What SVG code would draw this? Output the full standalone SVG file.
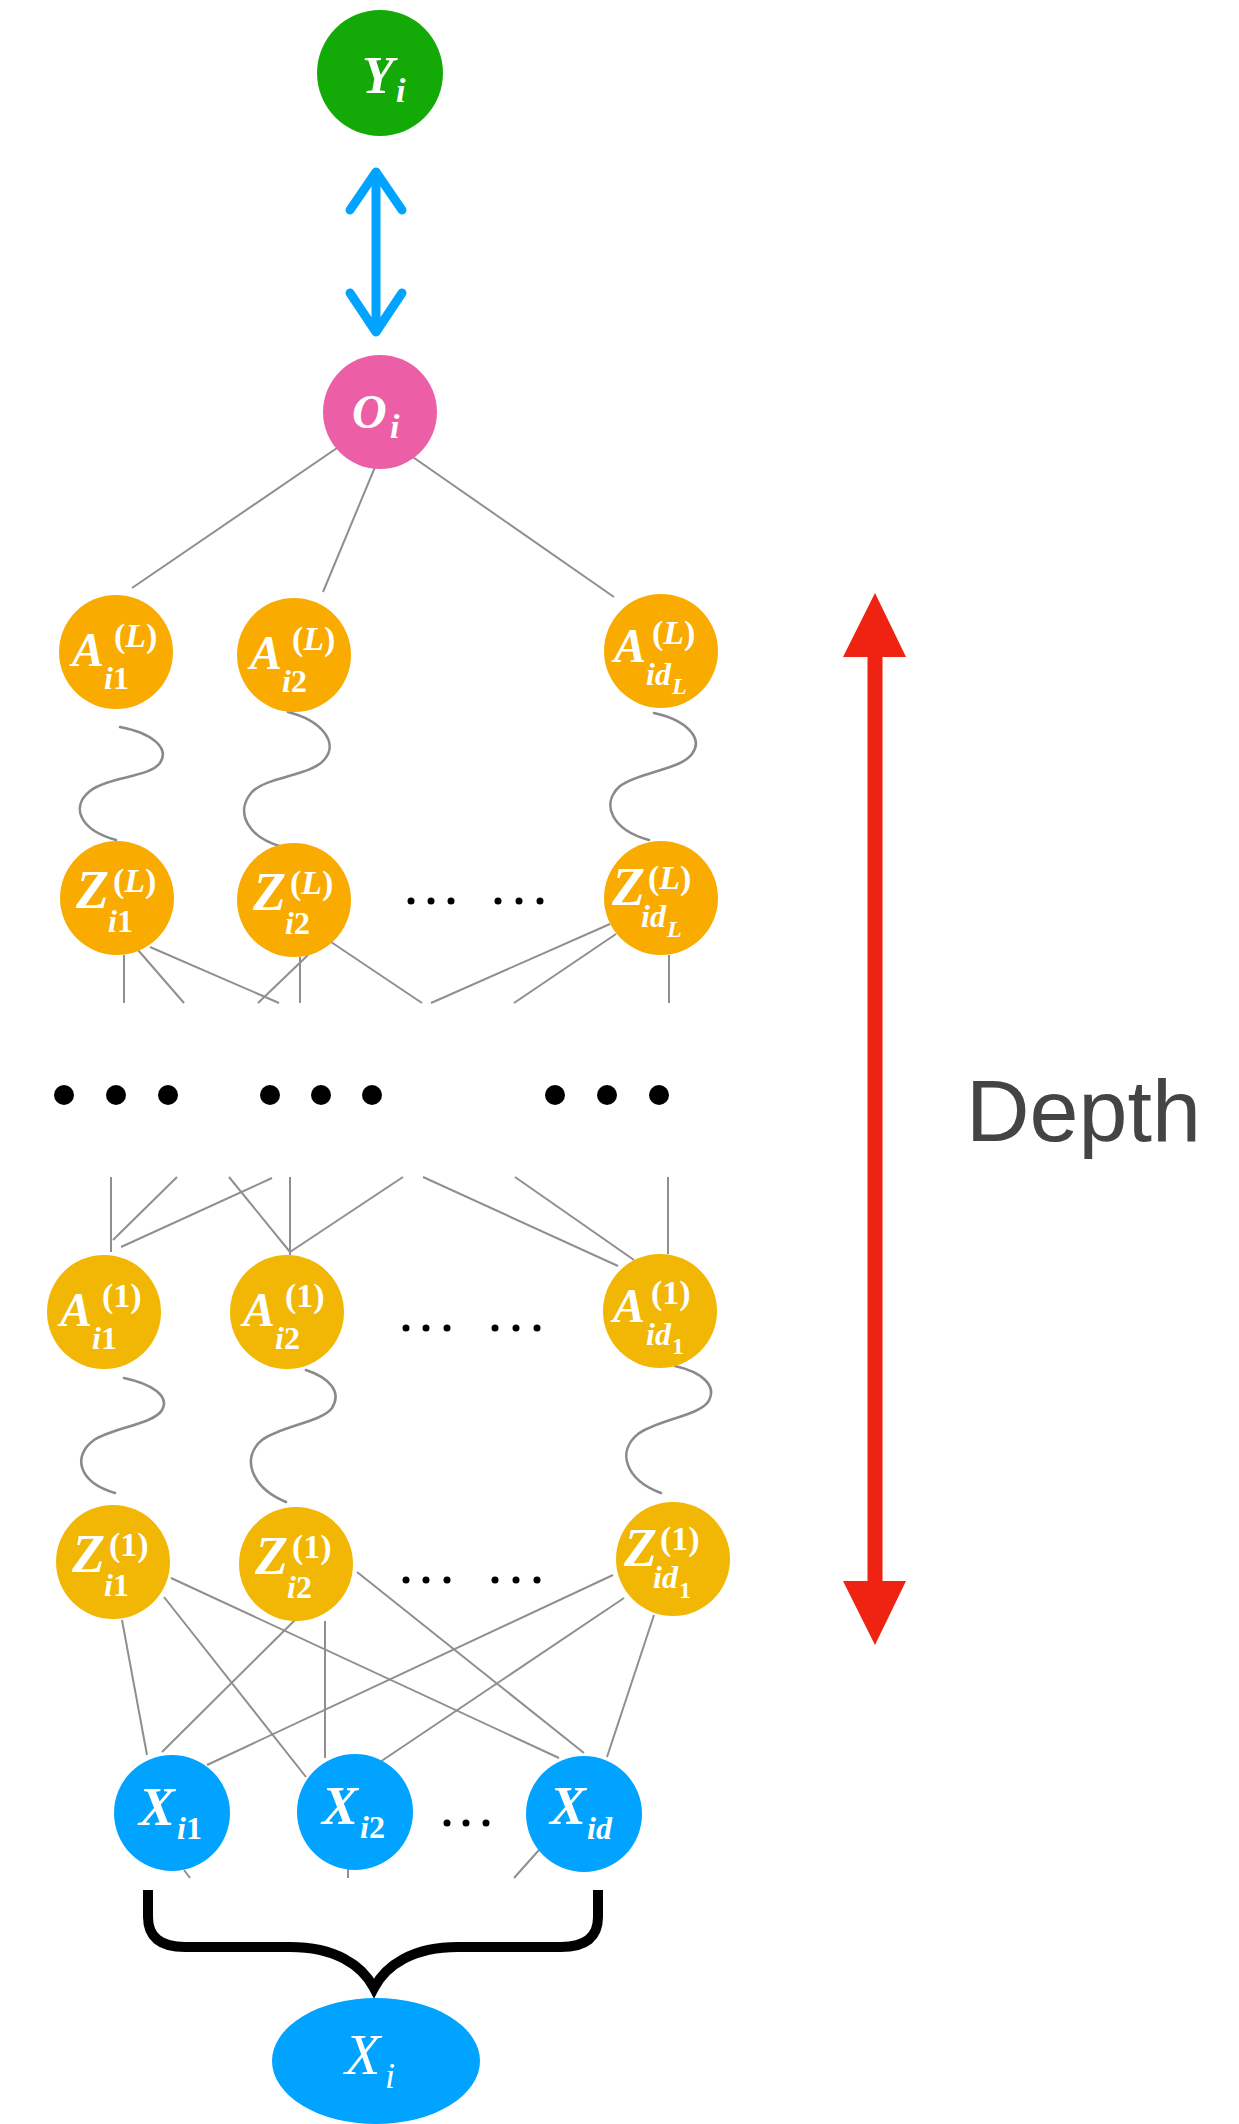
<svg xmlns="http://www.w3.org/2000/svg" width="1239" height="2124" viewBox="0 0 1239 2124">
  <style>
    .edge { stroke: #8f8f8f; stroke-width: 2; fill: none; }
    .wave { stroke: #8a8a8a; stroke-width: 2.6; fill: none; stroke-linecap: round; }
    .nL { fill: #faab00; }
    .n1 { fill: #f2b704; }
    .nx { fill: #00a3ff; }
    .lbl { font-family: "Liberation Serif", "Times New Roman", serif; font-weight: bold; font-style: italic; fill: #ffffff; }
    .up { font-style: normal; }
    .m { font-size: 48px; }
    .mz { font-size: 54px; }
    .s { font-size: 34px; }
    .b { font-size: 32px; }
    .bb { font-size: 24px; }
    .dot { fill: #000000; }
  </style>

  <!-- connectors -->
  <g id="connectors">
    <!-- output to last hidden layer -->
    <line class="edge" x1="337" y1="448" x2="132" y2="588"/>
    <line class="edge" x1="380" y1="455" x2="323" y2="592"/>
    <line class="edge" x1="407" y1="453" x2="614" y2="597"/>

    <!-- activation / pre-activation wiggles, layer L -->
    <path class="wave" d="M120,727 C152,733 170,748 160,763 C150,777 108,777 90,791 C70,807 80,830 116,840"/>
    <path class="wave" d="M288,712 C320,720 340,742 324,760 C310,776 268,776 252,792 C234,812 248,838 283,847"/>
    <path class="wave" d="M654,713 C686,720 704,738 692,754 C680,770 638,772 620,786 C600,804 612,830 649,840"/>

    <!-- layer L fan-out, cut before the elided layers -->
    <line class="edge" x1="124" y1="955" x2="124" y2="1003"/>
    <line class="edge" x1="138" y1="950" x2="184" y2="1003"/>
    <line class="edge" x1="150" y1="947" x2="279" y2="1003"/>
    <line class="edge" x1="308" y1="955" x2="258" y2="1003"/>
    <line class="edge" x1="300" y1="957" x2="300" y2="1003"/>
    <line class="edge" x1="331" y1="942" x2="422" y2="1003"/>
    <line class="edge" x1="610" y1="924" x2="431" y2="1003"/>
    <line class="edge" x1="616" y1="934" x2="514" y2="1003"/>
    <line class="edge" x1="669" y1="955" x2="669" y2="1003"/>

    <!-- fan-in to layer 1 activations -->
    <line class="edge" x1="111" y1="1177" x2="111" y2="1252"/>
    <line class="edge" x1="177" y1="1177" x2="113" y2="1240"/>
    <line class="edge" x1="272" y1="1178" x2="121" y2="1247"/>
    <line class="edge" x1="229" y1="1177" x2="290" y2="1252"/>
    <line class="edge" x1="290" y1="1177" x2="290" y2="1255"/>
    <line class="edge" x1="403" y1="1177" x2="290" y2="1252"/>
    <line class="edge" x1="423" y1="1177" x2="618" y2="1266"/>
    <line class="edge" x1="515" y1="1177" x2="634" y2="1260"/>
    <line class="edge" x1="668" y1="1177" x2="668" y2="1254"/>

    <!-- activation / pre-activation wiggles, layer 1 -->
    <path class="wave" d="M124,1378 C152,1384 170,1396 162,1410 C154,1424 112,1428 94,1440 C72,1456 78,1482 115,1493"/>
    <path class="wave" d="M306,1370 C330,1378 342,1392 332,1408 C322,1422 280,1426 262,1440 C240,1458 252,1488 286,1502"/>
    <path class="wave" d="M675,1366 C702,1372 718,1386 708,1402 C698,1416 656,1420 638,1434 C616,1452 626,1480 661,1493"/>

    <!-- inputs to layer 1 pre-activations -->
    <line class="edge" x1="122" y1="1620" x2="147" y2="1755"/>
    <line class="edge" x1="295" y1="1620" x2="162" y2="1752"/>
    <line class="edge" x1="613" y1="1575" x2="207" y2="1765"/>
    <line class="edge" x1="164" y1="1597" x2="306" y2="1777"/>
    <line class="edge" x1="325" y1="1621" x2="325" y2="1758"/>
    <line class="edge" x1="624" y1="1598" x2="380" y2="1762"/>
    <line class="edge" x1="171" y1="1578" x2="559" y2="1758"/>
    <line class="edge" x1="357" y1="1572" x2="584" y2="1753"/>
    <line class="edge" x1="654" y1="1615" x2="607" y2="1757"/>

    <!-- stubs under the input row -->
    <line class="edge" x1="184" y1="1870" x2="190" y2="1878"/>
    <line class="edge" x1="348" y1="1868" x2="348" y2="1878"/>
    <line class="edge" x1="539" y1="1850" x2="514" y2="1878"/>

    <!-- loss link between output and target -->
    <g id="loss-arrow" stroke="#00a3ff" stroke-width="9" stroke-linecap="round" stroke-linejoin="round" fill="none">
      <line x1="376" y1="176" x2="376" y2="328"/>
      <polyline points="350,210 376,172 402,210"/>
      <polyline points="350,293 376,332 402,293"/>
    </g>

    <!-- brace gathering the inputs -->
    <path d="M148,1890 V1917 Q148,1947 185,1947 H290 C335,1947 362,1965 374,1988 C386,1965 413,1947 458,1947 H561 Q598,1947 598,1917 V1890" fill="none" stroke="#000" stroke-width="10" stroke-linejoin="miter"/>
  </g>

  <!-- target and output -->
  <g id="node-Y">
    <circle cx="380" cy="73" r="63" fill="#13aa08"/>
    <text class="lbl"><tspan x="362" y="93" font-size="52">Y</tspan><tspan x="396" y="102" class="s">i</tspan></text>
  </g>
  <g id="node-O">
    <circle cx="380" cy="412" r="57" fill="#ec5fa6"/>
    <text class="lbl"><tspan x="352" y="428" font-size="48">O</tspan><tspan x="390" y="438" class="s">i</tspan></text>
  </g>

  <!-- layer L activations -->
  <g id="node-A-L-1" transform="translate(116,652)">
    <circle r="57" class="nL"/>
    <text class="lbl"><tspan x="-44" y="14" class="m">A</tspan><tspan x="-2" y="-5" class="s up">(</tspan><tspan class="s">L</tspan><tspan class="s up">)</tspan><tspan x="-12" y="37" class="b">i</tspan><tspan class="b up">1</tspan></text>
  </g>
  <g id="node-A-L-2" transform="translate(294,655)">
    <circle r="57" class="nL"/>
    <text class="lbl"><tspan x="-44" y="14" class="m">A</tspan><tspan x="-2" y="-5" class="s up">(</tspan><tspan class="s">L</tspan><tspan class="s up">)</tspan><tspan x="-12" y="37" class="b">i</tspan><tspan class="b up">2</tspan></text>
  </g>
  <g id="node-A-L-d" transform="translate(661,651)">
    <circle r="57" class="nL"/>
    <text class="lbl"><tspan x="-47" y="11" class="m">A</tspan><tspan x="-9" y="-7" class="s up">(</tspan><tspan class="s">L</tspan><tspan class="s up">)</tspan><tspan x="-15" y="34" class="b">id</tspan><tspan x="11" y="43" class="bb">L</tspan></text>
  </g>

  <!-- layer L pre-activations -->
  <g id="node-Z-L-1" transform="translate(117,898)">
    <circle r="57" class="nL"/>
    <text class="lbl"><tspan x="-41" y="10" class="mz">Z</tspan><tspan x="-4" y="-6" class="s up">(</tspan><tspan class="s">L</tspan><tspan class="s up">)</tspan><tspan x="-9" y="34" class="b">i</tspan><tspan class="b up">1</tspan></text>
  </g>
  <g id="node-Z-L-2" transform="translate(294,900)">
    <circle r="57" class="nL"/>
    <text class="lbl"><tspan x="-41" y="10" class="mz">Z</tspan><tspan x="-4" y="-6" class="s up">(</tspan><tspan class="s">L</tspan><tspan class="s up">)</tspan><tspan x="-9" y="34" class="b">i</tspan><tspan class="b up">2</tspan></text>
  </g>
  <g id="node-Z-L-d" transform="translate(661,898)">
    <circle r="57" class="nL"/>
    <text class="lbl"><tspan x="-49" y="7" class="mz">Z</tspan><tspan x="-13" y="-9" class="s up">(</tspan><tspan class="s">L</tspan><tspan class="s up">)</tspan><tspan x="-20" y="29" class="b">id</tspan><tspan x="6" y="39" class="bb">L</tspan></text>
  </g>

  <!-- layer 1 activations -->
  <g id="node-A-1-1" transform="translate(104,1312)">
    <circle r="57" class="n1"/>
    <text class="lbl"><tspan x="-44" y="14" class="m">A</tspan><tspan x="-2" y="-5" class="s up">(1)</tspan><tspan x="-12" y="37" class="b">i</tspan><tspan class="b up">1</tspan></text>
  </g>
  <g id="node-A-1-2" transform="translate(287,1312)">
    <circle r="57" class="n1"/>
    <text class="lbl"><tspan x="-44" y="14" class="m">A</tspan><tspan x="-2" y="-5" class="s up">(1)</tspan><tspan x="-12" y="37" class="b">i</tspan><tspan class="b up">2</tspan></text>
  </g>
  <g id="node-A-1-d" transform="translate(660,1311)">
    <circle r="57" class="n1"/>
    <text class="lbl"><tspan x="-47" y="11" class="m">A</tspan><tspan x="-9" y="-7" class="s up">(1)</tspan><tspan x="-14" y="34" class="b">id</tspan><tspan x="12" y="43" class="bb up">1</tspan></text>
  </g>

  <!-- layer 1 pre-activations -->
  <g id="node-Z-1-1" transform="translate(113,1562)">
    <circle r="57" class="n1"/>
    <text class="lbl"><tspan x="-41" y="10" class="mz">Z</tspan><tspan x="-4" y="-6" class="s up">(1)</tspan><tspan x="-9" y="34" class="b">i</tspan><tspan class="b up">1</tspan></text>
  </g>
  <g id="node-Z-1-2" transform="translate(296,1564)">
    <circle r="57" class="n1"/>
    <text class="lbl"><tspan x="-41" y="10" class="mz">Z</tspan><tspan x="-4" y="-6" class="s up">(1)</tspan><tspan x="-9" y="34" class="b">i</tspan><tspan class="b up">2</tspan></text>
  </g>
  <g id="node-Z-1-d" transform="translate(673,1559)">
    <circle r="57" class="n1"/>
    <text class="lbl"><tspan x="-49" y="7" class="mz">Z</tspan><tspan x="-13" y="-9" class="s up">(1)</tspan><tspan x="-20" y="29" class="b">id</tspan><tspan x="6" y="39" class="bb up">1</tspan></text>
  </g>

  <!-- inputs -->
  <g id="node-X-1" transform="translate(172,1813)">
    <circle r="58" class="nx"/>
    <text class="lbl"><tspan x="-33" y="12" class="mz">X</tspan><tspan x="5" y="26" class="b">i</tspan><tspan class="b up">1</tspan></text>
  </g>
  <g id="node-X-2" transform="translate(355,1812)">
    <circle r="58" class="nx"/>
    <text class="lbl"><tspan x="-33" y="12" class="mz">X</tspan><tspan x="5" y="26" class="b">i</tspan><tspan class="b up">2</tspan></text>
  </g>
  <g id="node-X-d" transform="translate(584,1814)">
    <circle r="58" class="nx"/>
    <text class="lbl"><tspan x="-34" y="10" class="mz">X</tspan><tspan x="3" y="25" class="b">id</tspan></text>
  </g>

  <!-- input vector -->
  <g id="node-Xi">
    <ellipse cx="376" cy="2061" rx="104" ry="63" fill="#00a3ff"/>
    <text font-family="'Liberation Serif', 'Times New Roman', serif" font-style="italic" fill="#ffffff"><tspan x="345" y="2074" font-size="58">X</tspan><tspan x="385" y="2088" font-size="36">i</tspan></text>
  </g>

  <!-- elided layers and units -->
  <g id="ellipses">
    <circle class="dot" cx="64" cy="1095" r="10"/>
    <circle class="dot" cx="116" cy="1095" r="10"/>
    <circle class="dot" cx="168" cy="1095" r="10"/>
    <circle class="dot" cx="270" cy="1095" r="10"/>
    <circle class="dot" cx="321" cy="1095" r="10"/>
    <circle class="dot" cx="372" cy="1095" r="10"/>
    <circle class="dot" cx="555" cy="1095" r="10"/>
    <circle class="dot" cx="607" cy="1095" r="10"/>
    <circle class="dot" cx="659" cy="1095" r="10"/>

    <g id="dots-Z-L">
      <circle class="dot" cx="411" cy="901" r="3.5"/><circle class="dot" cx="431" cy="901" r="3.5"/><circle class="dot" cx="451" cy="901" r="3.5"/>
      <circle class="dot" cx="498" cy="901" r="3.5"/><circle class="dot" cx="519" cy="901" r="3.5"/><circle class="dot" cx="540" cy="901" r="3.5"/>
    </g>
    <g id="dots-A-1">
      <circle class="dot" cx="406" cy="1328" r="3.5"/><circle class="dot" cx="426" cy="1328" r="3.5"/><circle class="dot" cx="447" cy="1328" r="3.5"/>
      <circle class="dot" cx="495" cy="1328" r="3.5"/><circle class="dot" cx="516" cy="1328" r="3.5"/><circle class="dot" cx="537" cy="1328" r="3.5"/>
    </g>
    <g id="dots-Z-1">
      <circle class="dot" cx="406" cy="1580" r="3.5"/><circle class="dot" cx="426" cy="1580" r="3.5"/><circle class="dot" cx="447" cy="1580" r="3.5"/>
      <circle class="dot" cx="495" cy="1580" r="3.5"/><circle class="dot" cx="516" cy="1580" r="3.5"/><circle class="dot" cx="537" cy="1580" r="3.5"/>
    </g>
    <g id="dots-X">
      <circle class="dot" cx="447" cy="1823" r="3.5"/><circle class="dot" cx="466" cy="1823" r="3.5"/><circle class="dot" cx="486" cy="1823" r="3.5"/>
    </g>
  </g>

  <!-- depth indicator -->
  <g id="depth">
    <rect x="867.5" y="654" width="15" height="929" fill="#ee2311"/>
    <polygon points="843,657 875,593 906,657" fill="#ee2311"/>
    <polygon points="843,1581 875,1645 906,1581" fill="#ee2311"/>
    <text x="966" y="1141" font-family="'Liberation Sans', Arial, sans-serif" font-size="88" fill="#444444">Depth</text>
  </g>
</svg>
